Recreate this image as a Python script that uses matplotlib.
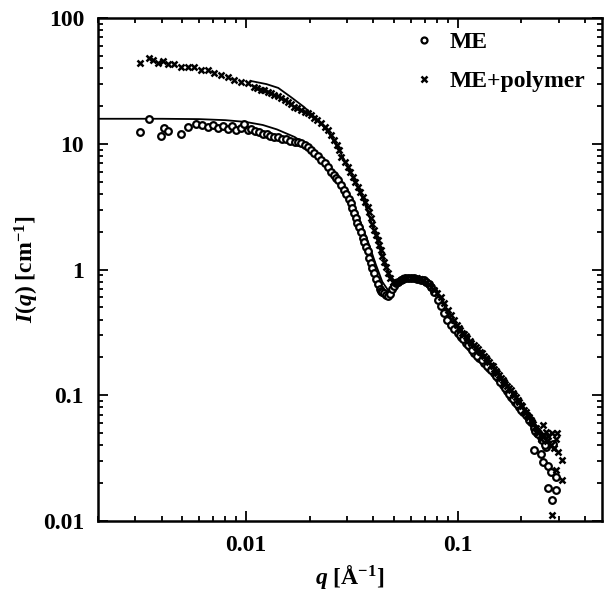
import matplotlib
matplotlib.use("Agg")
import matplotlib.pyplot as plt
from matplotlib.ticker import LogLocator, NullFormatter, FixedLocator, FixedFormatter

plt.rcParams['font.family'] = ['Liberation Serif', 'DejaVu Serif']
plt.rcParams['mathtext.fontset'] = 'custom'
plt.rcParams['mathtext.rm'] = 'Liberation Serif:bold'
plt.rcParams['mathtext.it'] = 'Liberation Serif:bold:italic'
plt.rcParams['mathtext.bf'] = 'Liberation Serif:bold'

# ---- data ----
me_q = [0.00316, 0.00348, 0.00397, 0.00410, 0.00430, 0.00493, 0.00532, 0.00580,
        0.00620, 0.00660, 0.00700, 0.00740, 0.00780, 0.00820, 0.00860, 0.00900,
        0.00950, 0.00980, 0.0102, 0.0106, 0.0110, 0.0115, 0.0120, 0.0125, 0.0130,
        0.0136, 0.0142, 0.0148, 0.0155, 0.0162, 0.0170, 0.0176, 0.0182, 0.0190,
        0.0197, 0.0203, 0.0210, 0.0218, 0.0226, 0.0235, 0.0244, 0.0252, 0.0260,
        0.0267, 0.0272, 0.0280, 0.0290, 0.0297, 0.0305, 0.0313, 0.0318, 0.0323,
        0.0330, 0.0336, 0.0341, 0.0348, 0.0355, 0.0360, 0.0368, 0.0376, 0.0382,
        0.0388, 0.0395, 0.0402, 0.0410, 0.0420, 0.0428, 0.0434, 0.0441, 0.0448,
        0.0458, 0.0468, 0.0478, 0.0490, 0.0500, 0.0512, 0.0524, 0.0538, 0.0550,
        0.0565, 0.0580, 0.0600, 0.0620, 0.0640, 0.0669, 0.0690, 0.0710, 0.0730,
        0.0750, 0.0775, 0.0805, 0.0830, 0.0859, 0.0890, 0.0927, 0.0960, 0.100,
        0.104, 0.109, 0.114, 0.119, 0.126, 0.133, 0.140, 0.148, 0.155, 0.163,
        0.170, 0.178, 0.186, 0.194, 0.204, 0.214, 0.221, 0.228, 0.236, 0.246,
        0.228, 0.246, 0.254, 0.268, 0.275, 0.290, 0.266, 0.290, 0.280, 0.283,
        0.262,
        0.102, 0.106, 0.112, 0.117, 0.123, 0.130, 0.137, 0.144, 0.152, 0.159,
        0.167, 0.174, 0.182, 0.190, 0.199, 0.209, 0.218, 0.232, 0.240, 0.250,
        0.258]
me_I = [12.4, 15.8, 11.6, 13.3, 12.6, 11.9, 13.6, 14.4,
        14.0, 13.6, 14.2, 13.3, 13.8, 13.2, 13.9, 12.9,
        13.3, 14.4, 12.8, 13.2, 12.6, 12.4, 12.0, 11.9, 11.6,
        11.3, 11.4, 11.0, 10.9, 10.6, 10.4, 10.3, 10.1, 9.7,
        9.4, 8.9, 8.5, 8.0, 7.4, 7.0, 6.5, 6.0, 5.6,
        5.3, 5.15, 4.7, 4.3, 3.95, 3.65, 3.38, 3.1, 2.81,
        2.55, 2.35, 2.18, 1.98, 1.78, 1.65, 1.50, 1.40, 1.24,
        1.13, 1.02, 0.94, 0.84, 0.77, 0.70, 0.68, 0.66, 0.65,
        0.63, 0.62, 0.64, 0.70, 0.74, 0.78, 0.80, 0.83, 0.84,
        0.85, 0.86, 0.85, 0.85, 0.84, 0.83, 0.82, 0.80, 0.77,
        0.73, 0.66, 0.57, 0.51, 0.451, 0.40, 0.362, 0.335, 0.313,
        0.29, 0.261, 0.24, 0.217, 0.198, 0.181, 0.165, 0.150, 0.136, 0.121,
        0.108, 0.097, 0.088, 0.081, 0.074, 0.067, 0.061, 0.055, 0.050, 0.0466,
        0.0367, 0.034, 0.0295, 0.0275, 0.0245, 0.0225, 0.0183, 0.0178, 0.0147, 0.0410,
        0.0390,
        0.30, 0.28, 0.25, 0.23, 0.205, 0.19, 0.172, 0.158, 0.142, 0.128,
        0.114, 0.103, 0.093, 0.085, 0.077, 0.070, 0.063, 0.052, 0.049, 0.044,
        0.040]

mp_q = [0.00316, 0.00348, 0.00364, 0.00384, 0.00406, 0.00429, 0.00457, 0.00493,
        0.00532, 0.00569, 0.00614, 0.00662, 0.00707, 0.00762, 0.00822, 0.00878,
        0.00947, 0.0102, 0.0109, 0.0113, 0.0118, 0.0122, 0.0127, 0.0131, 0.0136,
        0.0141, 0.0146, 0.0152, 0.0158, 0.0163, 0.0168, 0.0175, 0.0182, 0.0189,
        0.0196, 0.0202, 0.0209, 0.0217, 0.0226, 0.0235, 0.0244, 0.0252, 0.0260,
        0.0268, 0.0275, 0.0281, 0.0292, 0.0303, 0.0311, 0.0320, 0.0328, 0.0337,
        0.0346, 0.0356, 0.0366, 0.0376, 0.0382, 0.0388, 0.0395, 0.0402, 0.0410,
        0.0419, 0.0426, 0.0434, 0.0441, 0.0448, 0.0458, 0.0468, 0.0481, 0.0494,
        0.0508, 0.0521, 0.0538, 0.0556, 0.0578, 0.0600, 0.0620, 0.0641, 0.0662,
        0.0684, 0.0706, 0.0730, 0.0750, 0.0771, 0.0800, 0.0832, 0.0865, 0.0897,
        0.0928, 0.0958, 0.0990, 0.103, 0.107, 0.111, 0.116, 0.122, 0.127, 0.133,
        0.138, 0.143, 0.148, 0.154, 0.160, 0.165, 0.171, 0.178, 0.185, 0.192,
        0.198, 0.205, 0.213, 0.221, 0.227, 0.233, 0.240, 0.246, 0.260, 0.253,
        0.275, 0.267, 0.290, 0.299, 0.310, 0.290, 0.310, 0.295, 0.280,
        0.101, 0.105, 0.109, 0.114, 0.119, 0.125, 0.130, 0.136, 0.141, 0.146,
        0.151, 0.157, 0.163, 0.168, 0.175, 0.182, 0.189, 0.195, 0.202, 0.209,
        0.217, 0.224, 0.237, 0.250, 0.265, 0.280, 0.285]
mp_I = [43.9, 48.1, 46.3, 43.9, 45.5, 43.1, 43.1, 40.8,
        40.8, 40.8, 38.6, 38.6, 36.6, 35.2, 34.0, 32.2,
        31.0, 30.4, 28.3, 27.8, 26.8, 26.6, 25.8, 25.2, 24.4,
        23.8, 23.1, 22.2, 21.5, 20.6, 19.6, 19.2, 18.5, 18.0,
        17.6, 16.9, 16.0, 15.4, 14.6, 13.7, 12.8, 11.8, 10.7,
        9.8, 8.92, 7.87, 7.2, 6.53, 5.95, 5.43, 4.95, 4.53,
        4.15, 3.77, 3.45, 3.14, 2.85, 2.57, 2.30, 2.06, 1.88,
        1.71, 1.56, 1.43, 1.28, 1.15, 1.04, 0.938, 0.86, 0.80,
        0.79, 0.80, 0.82, 0.85, 0.86, 0.86, 0.85, 0.85, 0.84,
        0.82, 0.80, 0.77, 0.73, 0.69, 0.65, 0.604, 0.54, 0.48,
        0.435, 0.397, 0.36, 0.33, 0.305, 0.285, 0.262, 0.242, 0.222, 0.205,
        0.19, 0.174, 0.162, 0.150, 0.138, 0.127, 0.118, 0.110, 0.100, 0.0917,
        0.084, 0.0764, 0.070, 0.0636, 0.059, 0.055, 0.050, 0.0445, 0.051, 0.058,
        0.040, 0.047, 0.0445, 0.0354, 0.0305, 0.0255, 0.0212, 0.050, 0.0112,
        0.34, 0.315, 0.295, 0.272, 0.252, 0.232, 0.215, 0.198, 0.183, 0.170,
        0.157, 0.145, 0.133, 0.123, 0.114, 0.105, 0.097, 0.089, 0.082, 0.074,
        0.067, 0.061, 0.052, 0.047, 0.043, 0.050, 0.038]

fit_me_q = [0.002, 0.004, 0.006, 0.008, 0.010, 0.012, 0.014, 0.017, 0.020, 0.023,
            0.026, 0.029, 0.032, 0.035, 0.038, 0.041, 0.044, 0.047, 0.050, 0.055,
            0.060, 0.065, 0.070, 0.075, 0.080, 0.090, 0.100, 0.120, 0.150, 0.190,
            0.240, 0.290]
fit_me_I = [15.8, 15.8, 15.7, 15.4, 14.9, 14.1, 13.0, 11.3, 9.4, 7.6,
            5.9, 4.4, 3.2, 2.3, 1.6, 1.1, 0.80, 0.68, 0.70, 0.80,
            0.85, 0.84, 0.80, 0.73, 0.62, 0.42, 0.31, 0.21, 0.135, 0.085,
            0.052, 0.036]

fit_mp_q = [0.0105, 0.0125, 0.0142, 0.0163, 0.0188, 0.0218, 0.0245, 0.0270,
            0.0300, 0.0330, 0.0360, 0.0390, 0.0420, 0.0450, 0.0480, 0.0510,
            0.0550, 0.0600, 0.0650, 0.0700, 0.0750, 0.0800, 0.0900, 0.1000,
            0.1200, 0.1500, 0.1900, 0.2400, 0.2900]
fit_mp_I = [31.6, 29.8, 27.8, 23.5, 19.6, 15.5, 12.3, 9.4,
            6.8, 4.9, 3.5, 2.4, 1.65, 1.15, 0.88, 0.80,
            0.82, 0.85, 0.84, 0.80, 0.73, 0.63, 0.44, 0.33,
            0.225, 0.142, 0.090, 0.055, 0.038]

labels = ["ME", "ME+polymer"]
xticks = [0.01, 0.1]
xtick_labels = ["0.01", "0.1"]
yticks = [0.01, 0.1, 1, 10, 100]
ytick_labels = ["0.01", "0.1", "1", "10", "100"]

fig = plt.figure(figsize=(6.07, 6.01), dpi=100)
ax = fig.add_axes([98/607, 1-521/601, (602-98)/607, (521-18)/601])
ax.set_xscale('log')
ax.set_yscale('log')

ax.plot(fit_me_q, fit_me_I, '-', color='black', lw=1.3, zorder=2)
ax.plot(fit_mp_q, fit_mp_I, '-', color='black', lw=1.3, zorder=2)
ax.plot(me_q, me_I, 'o', ls='none', ms=4.8, mfc='white', mec='black', mew=1.6,
        label=labels[0], zorder=3)
ax.plot(mp_q, mp_I, 'x', ls='none', ms=5.0, color='black', mew=1.8,
        label=labels[1], zorder=4)

ax.set_xlim(0.002, 0.48)
ax.set_ylim(0.01, 100)

ax.xaxis.set_major_locator(FixedLocator(xticks))
ax.xaxis.set_major_formatter(FixedFormatter(xtick_labels))
ax.xaxis.set_minor_locator(LogLocator(base=10, subs=range(2, 10), numticks=20))
ax.xaxis.set_minor_formatter(NullFormatter())
ax.yaxis.set_major_locator(FixedLocator(yticks))
ax.yaxis.set_major_formatter(FixedFormatter(ytick_labels))
ax.yaxis.set_minor_locator(LogLocator(base=10, subs=range(2, 10), numticks=20))
ax.yaxis.set_minor_formatter(NullFormatter())

ax.tick_params(which='both', direction='in', top=True, right=True, width=1.3)
ax.tick_params(which='major', length=7, labelsize=17, pad=10)
ax.tick_params(which='minor', length=3.5)
for lab in ax.get_xticklabels() + ax.get_yticklabels():
    lab.set_fontweight('bold')
for s in ax.spines.values():
    s.set_linewidth(1.8)

ax.set_xlabel(r'$q$ [$\mathrm{\AA}^{\mathrm{-1}}$]', fontsize=17, labelpad=5)
ax.set_ylabel(r'$I$($q$) [cm$^{\mathrm{-1}}$]', fontsize=17, labelpad=1)
ax.xaxis.label.set_fontweight('bold')
ax.yaxis.label.set_fontweight('bold')

leg = ax.legend(loc='upper right', frameon=False, handletextpad=0.6,
                bbox_to_anchor=(1.01, 1.015), labelspacing=0.75, markerscale=0.9,
                handlelength=1.0, prop={'size': 17, 'weight': 'bold'})

fig.savefig('out.png', dpi=100)
